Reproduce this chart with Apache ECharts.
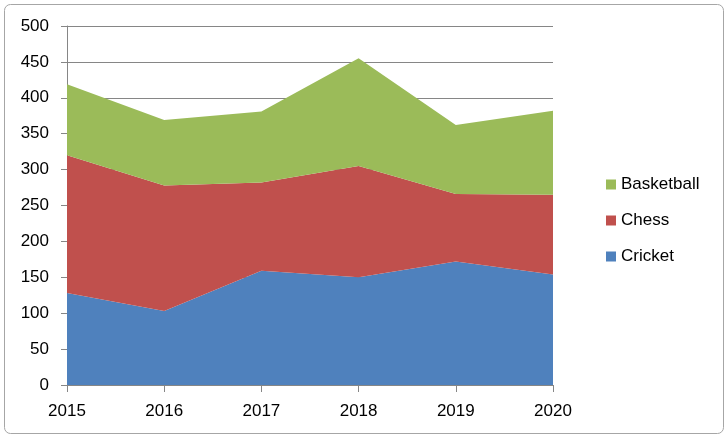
<!DOCTYPE html>
<html>
<head>
<meta charset="utf-8">
<script src="https://cdn.jsdelivr.net/npm/echarts@6/dist/echarts.min.js"></script>
<style>
html,body{margin:0;padding:0;background:#ffffff;}
#chart{width:728px;height:439px;}
</style>
</head>
<body>
<div id="chart"></div>
<script>
const years = ['2015', '2016', '2017', '2018', '2019', '2020'];
const cricket = [128, 103, 159, 150, 172, 154];
const chess = [192, 175, 123, 155, 94, 111];
const basketball = [99, 91, 99, 150, 96, 117];
const legendOrder = ['Basketball', 'Chess', 'Cricket'];
const yTicks = {min: 0, max: 500, step: 50};

const chart = echarts.init(document.getElementById('chart'), null, {renderer: 'canvas'});
const font = 'Liberation Sans, Arial, sans-serif';
const gray = '#868686';

function areaSeries(name, data, color) {
  return {
    name: name,
    type: 'line',
    stack: 'total',
    data: data,
    showSymbol: false,
    symbol: 'none',
    lineStyle: {width: 0},
    areaStyle: {color: color, opacity: 1},
    itemStyle: {color: color},
    emphasis: {disabled: true},
    animation: false
  };
}

chart.setOption({
  animation: false,
  backgroundColor: '#ffffff',
  graphic: [{
    type: 'rect',
    shape: {x: 4.5, y: 4.5, width: 719, height: 429, r: 6},
    style: {fill: 'none', stroke: '#a6a6a6', lineWidth: 1},
    silent: true,
    z: -1
  }],
  grid: {left: 67, right: 175, top: 26, bottom: 54, containLabel: false},
  legend: {
    data: legendOrder,
    orient: 'vertical',
    left: 606,
    top: 176,
    padding: 0,
    itemWidth: 10,
    itemHeight: 10,
    itemGap: 19,
    icon: 'rect',
    textStyle: {fontFamily: font, fontSize: 17, color: '#000', padding: [0, 0, 0, 0]},
    selectedMode: false
  },
  xAxis: {
    type: 'category',
    data: years,
    boundaryGap: false,
    axisLine: {show: true, lineStyle: {color: gray, width: 1}},
    axisTick: {show: true, length: 7, alignWithLabel: true, lineStyle: {color: gray}},
    axisLabel: {fontFamily: font, fontSize: 17, color: '#000', margin: 18},
    splitLine: {show: false}
  },
  yAxis: {
    type: 'value',
    min: yTicks.min,
    max: yTicks.max,
    interval: yTicks.step,
    axisLine: {show: true, lineStyle: {color: gray, width: 1}},
    axisTick: {show: true, length: 6, lineStyle: {color: gray}},
    axisLabel: {fontFamily: font, fontSize: 17, color: '#000', margin: 18},
    splitLine: {show: true, lineStyle: {color: gray, width: 1}}
  },
  series: [
    areaSeries('Cricket', cricket, '#4F81BD'),
    areaSeries('Chess', chess, '#C0504D'),
    areaSeries('Basketball', basketball, '#9BBB59')
  ]
});
</script>
</body>
</html>
